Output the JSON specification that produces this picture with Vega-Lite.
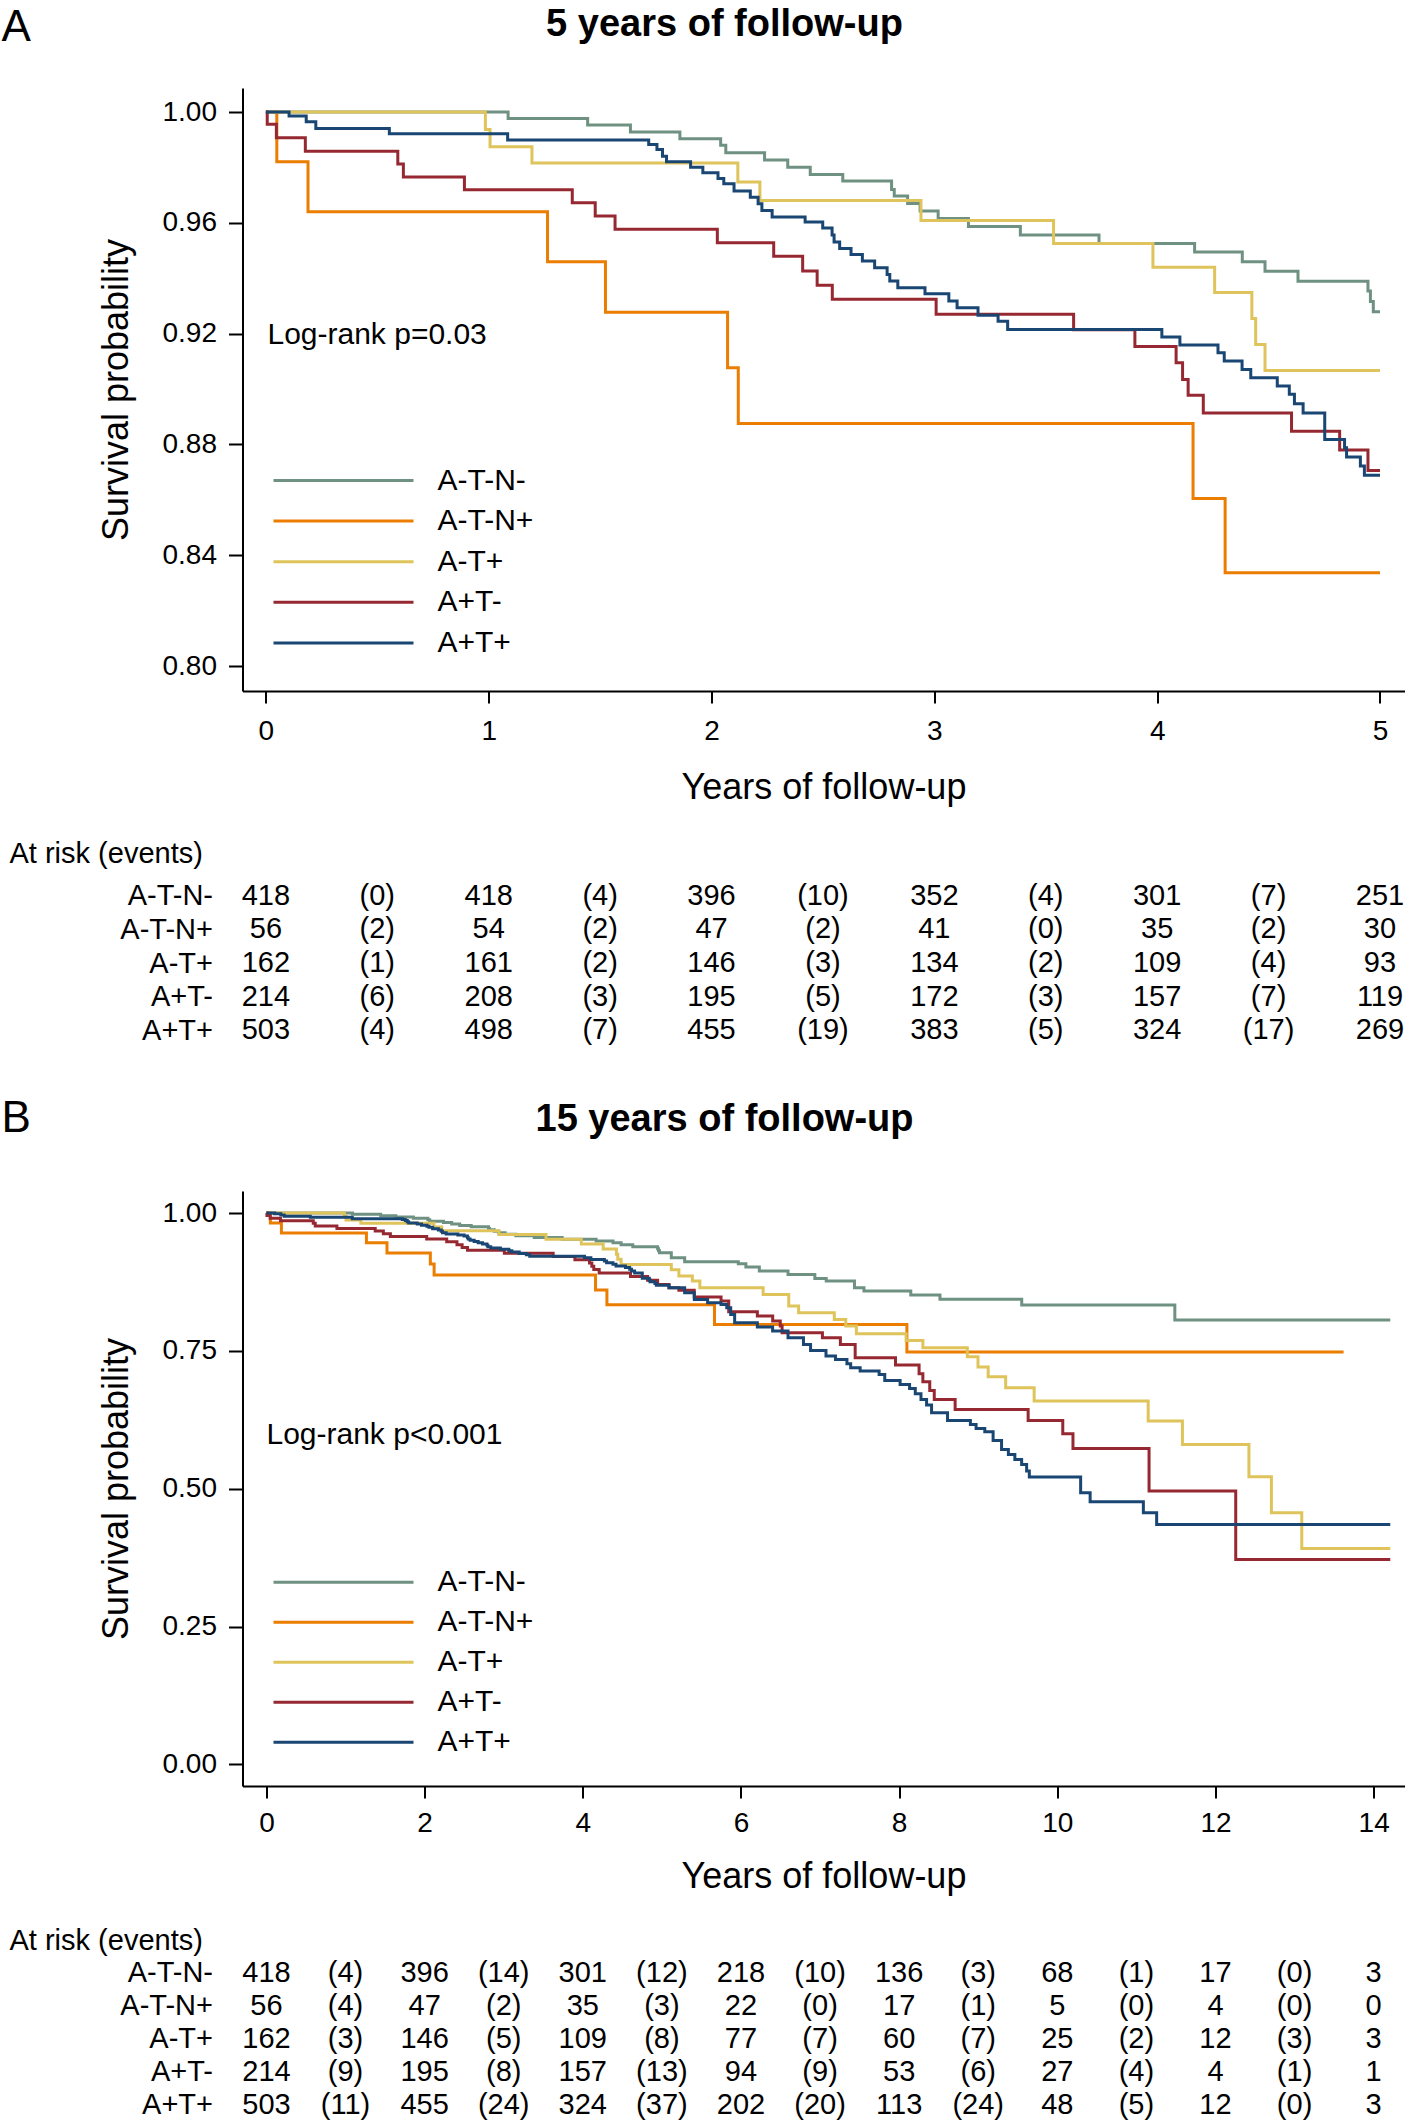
{
"$schema": "https://vega.github.io/schema/vega-lite/v6.json",
"background": "white",
"padding": {"left": 1.5, "top": 6, "right": 0, "bottom": 0},
"config": {
  "view": {"stroke": null},
  "axis": {"domainColor": "black", "domainWidth": 2, "tickColor": "black", "tickWidth": 2, "labelColor": "black", "titleColor": "black", "labelFont": "Liberation Sans", "titleFont": "Liberation Sans", "titleFontWeight": "normal", "grid": false, "labelFontSize": 28, "titleFontSize": 36},
  "title": {"color": "black"}
},
"datasets": {
  "km": [
    {"g":"A-T-N-","t":0,"s":1},{"g":"A-T-N-","t":1.087,"s":0.9977},{"g":"A-T-N-","t":1.444,"s":0.9953},{"g":"A-T-N-","t":1.636,"s":0.9928},{"g":"A-T-N-","t":1.858,"s":0.9904},{"g":"A-T-N-","t":2.041,"s":0.988},{"g":"A-T-N-","t":2.064,"s":0.9853},{"g":"A-T-N-","t":2.238,"s":0.9827},{"g":"A-T-N-","t":2.342,"s":0.9801},{"g":"A-T-N-","t":2.443,"s":0.9775},{"g":"A-T-N-","t":2.589,"s":0.9751},{"g":"A-T-N-","t":2.808,"s":0.9721},{"g":"A-T-N-","t":2.82,"s":0.9697},{"g":"A-T-N-","t":2.88,"s":0.967},{"g":"A-T-N-","t":2.936,"s":0.9643},{"g":"A-T-N-","t":3.017,"s":0.9616},{"g":"A-T-N-","t":3.153,"s":0.9587},{"g":"A-T-N-","t":3.386,"s":0.9556},{"g":"A-T-N-","t":3.739,"s":0.9526},{"g":"A-T-N-","t":4.168,"s":0.9495},{"g":"A-T-N-","t":4.382,"s":0.946},{"g":"A-T-N-","t":4.484,"s":0.9425},{"g":"A-T-N-","t":4.632,"s":0.9389},{"g":"A-T-N-","t":4.946,"s":0.9354},{"g":"A-T-N-","t":4.957,"s":0.9316},{"g":"A-T-N-","t":4.97,"s":0.9279},{"g":"A-T-N-","t":5.0,"s":0.9279},{"g":"A-T-N-","t":5.119,"s":0.919},{"g":"A-T-N-","t":5.288,"s":0.9118},{"g":"A-T-N-","t":5.966,"s":0.9081},{"g":"A-T-N-","t":6.062,"s":0.9021},{"g":"A-T-N-","t":6.232,"s":0.8948},{"g":"A-T-N-","t":6.595,"s":0.8888},{"g":"A-T-N-","t":6.934,"s":0.8815},{"g":"A-T-N-","t":7.078,"s":0.8767},{"g":"A-T-N-","t":7.435,"s":0.8646},{"g":"A-T-N-","t":7.555,"s":0.8586},{"g":"A-T-N-","t":8.147,"s":0.8513},{"g":"A-T-N-","t":8.516,"s":0.8435},{"g":"A-T-N-","t":9.55,"s":0.8332},{"g":"A-T-N-","t":11.486,"s":0.806},{"g":"A-T-N-","t":14.21,"s":0.806},
    {"g":"A-T-N+","t":0,"s":1},{"g":"A-T-N+","t":0.049,"s":0.9821},{"g":"A-T-N+","t":0.189,"s":0.964},{"g":"A-T-N+","t":1.264,"s":0.946},{"g":"A-T-N+","t":1.524,"s":0.9277},{"g":"A-T-N+","t":2.072,"s":0.9077},{"g":"A-T-N+","t":2.12,"s":0.8876},{"g":"A-T-N+","t":4.161,"s":0.8605},{"g":"A-T-N+","t":4.305,"s":0.8337},{"g":"A-T-N+","t":5.0,"s":0.8337},{"g":"A-T-N+","t":5.665,"s":0.7981},{"g":"A-T-N+","t":8.098,"s":0.7479},{"g":"A-T-N+","t":13.62,"s":0.7479},
    {"g":"A-T+","t":0,"s":1},{"g":"A-T+","t":0.985,"s":0.9937},{"g":"A-T+","t":1.006,"s":0.9875},{"g":"A-T+","t":1.194,"s":0.9816},{"g":"A-T+","t":2.118,"s":0.9748},{"g":"A-T+","t":2.217,"s":0.9681},{"g":"A-T+","t":2.94,"s":0.9609},{"g":"A-T+","t":3.535,"s":0.9526},{"g":"A-T+","t":3.981,"s":0.944},{"g":"A-T+","t":4.258,"s":0.9349},{"g":"A-T+","t":4.425,"s":0.9255},{"g":"A-T+","t":4.442,"s":0.9161},{"g":"A-T+","t":4.484,"s":0.9067},{"g":"A-T+","t":5.0,"s":0.9067},{"g":"A-T+","t":5.119,"s":0.897},{"g":"A-T+","t":5.215,"s":0.8858},{"g":"A-T+","t":5.385,"s":0.8767},{"g":"A-T+","t":5.48,"s":0.8646},{"g":"A-T+","t":6.28,"s":0.8525},{"g":"A-T+","t":6.604,"s":0.8313},{"g":"A-T+","t":6.729,"s":0.8192},{"g":"A-T+","t":7.18,"s":0.8071},{"g":"A-T+","t":7.325,"s":0.795},{"g":"A-T+","t":7.459,"s":0.7811},{"g":"A-T+","t":8.088,"s":0.769},{"g":"A-T+","t":8.3,"s":0.7558},{"g":"A-T+","t":8.862,"s":0.7395},{"g":"A-T+","t":8.997,"s":0.7207},{"g":"A-T+","t":9.126,"s":0.7032},{"g":"A-T+","t":9.347,"s":0.6832},{"g":"A-T+","t":9.707,"s":0.659},{"g":"A-T+","t":11.149,"s":0.6228},{"g":"A-T+","t":11.582,"s":0.5805},{"g":"A-T+","t":12.423,"s":0.5219},{"g":"A-T+","t":12.707,"s":0.4566},{"g":"A-T+","t":13.091,"s":0.3919},{"g":"A-T+","t":14.21,"s":0.3919},
    {"g":"A+T-","t":0,"s":1},{"g":"A+T-","t":0.006,"s":0.9956},{"g":"A+T-","t":0.047,"s":0.9907},{"g":"A+T-","t":0.177,"s":0.9859},{"g":"A+T-","t":0.592,"s":0.9813},{"g":"A+T-","t":0.617,"s":0.9766},{"g":"A+T-","t":0.891,"s":0.972},{"g":"A+T-","t":1.375,"s":0.9673},{"g":"A+T-","t":1.478,"s":0.9625},{"g":"A+T-","t":1.567,"s":0.9577},{"g":"A+T-","t":2.026,"s":0.9528},{"g":"A+T-","t":2.279,"s":0.948},{"g":"A+T-","t":2.409,"s":0.9426},{"g":"A+T-","t":2.474,"s":0.9375},{"g":"A+T-","t":2.542,"s":0.9324},{"g":"A+T-","t":3.008,"s":0.927},{"g":"A+T-","t":3.625,"s":0.9214},{"g":"A+T-","t":3.9,"s":0.9154},{"g":"A+T-","t":4.085,"s":0.9095},{"g":"A+T-","t":4.114,"s":0.9035},{"g":"A+T-","t":4.139,"s":0.8978},{"g":"A+T-","t":4.207,"s":0.8914},{"g":"A+T-","t":4.603,"s":0.8848},{"g":"A+T-","t":4.819,"s":0.878},{"g":"A+T-","t":4.946,"s":0.8706},{"g":"A+T-","t":5.0,"s":0.8706},{"g":"A+T-","t":5.09,"s":0.8646},{"g":"A+T-","t":5.215,"s":0.8598},{"g":"A+T-","t":5.409,"s":0.8477},{"g":"A+T-","t":5.748,"s":0.8405},{"g":"A+T-","t":5.845,"s":0.8211},{"g":"A+T-","t":6.207,"s":0.8132},{"g":"A+T-","t":6.401,"s":0.8041},{"g":"A+T-","t":6.497,"s":0.795},{"g":"A+T-","t":6.52,"s":0.783},{"g":"A+T-","t":7.03,"s":0.7739},{"g":"A+T-","t":7.257,"s":0.7618},{"g":"A+T-","t":7.444,"s":0.7376},{"g":"A+T-","t":7.954,"s":0.7243},{"g":"A+T-","t":8.252,"s":0.7086},{"g":"A+T-","t":8.3,"s":0.6941},{"g":"A+T-","t":8.387,"s":0.6784},{"g":"A+T-","t":8.444,"s":0.662},{"g":"A+T-","t":8.708,"s":0.6439},{"g":"A+T-","t":9.631,"s":0.6239},{"g":"A+T-","t":10.069,"s":0.5998},{"g":"A+T-","t":10.198,"s":0.5732},{"g":"A+T-","t":11.16,"s":0.4958},{"g":"A+T-","t":12.256,"s":0.3718},{"g":"A+T-","t":14.21,"s":0.3718},
    {"g":"A+T+","t":0,"s":1},{"g":"A+T+","t":0.104,"s":0.9986},{"g":"A+T+","t":0.181,"s":0.9965},{"g":"A+T+","t":0.224,"s":0.9941},{"g":"A+T+","t":0.554,"s":0.9922},{"g":"A+T+","t":1.085,"s":0.9899},{"g":"A+T+","t":1.718,"s":0.9883},{"g":"A+T+","t":1.755,"s":0.9865},{"g":"A+T+","t":1.78,"s":0.9841},{"g":"A+T+","t":1.798,"s":0.9821},{"g":"A+T+","t":1.906,"s":0.9801},{"g":"A+T+","t":1.961,"s":0.9781},{"g":"A+T+","t":2.029,"s":0.976},{"g":"A+T+","t":2.055,"s":0.9741},{"g":"A+T+","t":2.101,"s":0.9715},{"g":"A+T+","t":2.174,"s":0.9693},{"g":"A+T+","t":2.209,"s":0.9669},{"g":"A+T+","t":2.226,"s":0.9645},{"g":"A+T+","t":2.272,"s":0.9621},{"g":"A+T+","t":2.42,"s":0.9603},{"g":"A+T+","t":2.499,"s":0.9582},{"g":"A+T+","t":2.541,"s":0.9556},{"g":"A+T+","t":2.55,"s":0.9531},{"g":"A+T+","t":2.575,"s":0.9508},{"g":"A+T+","t":2.626,"s":0.9486},{"g":"A+T+","t":2.677,"s":0.9462},{"g":"A+T+","t":2.732,"s":0.9438},{"g":"A+T+","t":2.788,"s":0.9414},{"g":"A+T+","t":2.8,"s":0.939},{"g":"A+T+","t":2.836,"s":0.9366},{"g":"A+T+","t":2.958,"s":0.9344},{"g":"A+T+","t":3.065,"s":0.9318},{"g":"A+T+","t":3.102,"s":0.9294},{"g":"A+T+","t":3.196,"s":0.9267},{"g":"A+T+","t":3.286,"s":0.9245},{"g":"A+T+","t":3.329,"s":0.9215},{"g":"A+T+","t":4.021,"s":0.9188},{"g":"A+T+","t":4.102,"s":0.9159},{"g":"A+T+","t":4.273,"s":0.9131},{"g":"A+T+","t":4.301,"s":0.9101},{"g":"A+T+","t":4.381,"s":0.9071},{"g":"A+T+","t":4.42,"s":0.9041},{"g":"A+T+","t":4.539,"s":0.9011},{"g":"A+T+","t":4.593,"s":0.8981},{"g":"A+T+","t":4.616,"s":0.8947},{"g":"A+T+","t":4.655,"s":0.8914},{"g":"A+T+","t":4.752,"s":0.8818},{"g":"A+T+","t":4.841,"s":0.8788},{"g":"A+T+","t":4.85,"s":0.8755},{"g":"A+T+","t":4.912,"s":0.8722},{"g":"A+T+","t":4.93,"s":0.8689},{"g":"A+T+","t":5.0,"s":0.8689},{"g":"A+T+","t":5.09,"s":0.8646},{"g":"A+T+","t":5.288,"s":0.8555},{"g":"A+T+","t":5.41,"s":0.8434},{"g":"A+T+","t":5.578,"s":0.8374},{"g":"A+T+","t":5.748,"s":0.8344},{"g":"A+T+","t":5.82,"s":0.8283},{"g":"A+T+","t":5.87,"s":0.8162},{"g":"A+T+","t":5.92,"s":0.8011},{"g":"A+T+","t":6.207,"s":0.7932},{"g":"A+T+","t":6.4,"s":0.786},{"g":"A+T+","t":6.595,"s":0.7739},{"g":"A+T+","t":6.79,"s":0.7618},{"g":"A+T+","t":6.88,"s":0.7509},{"g":"A+T+","t":7.075,"s":0.7407},{"g":"A+T+","t":7.195,"s":0.7346},{"g":"A+T+","t":7.34,"s":0.7267},{"g":"A+T+","t":7.387,"s":0.7195},{"g":"A+T+","t":7.507,"s":0.7134},{"g":"A+T+","t":7.747,"s":0.7074},{"g":"A+T+","t":7.818,"s":0.6965},{"g":"A+T+","t":8.012,"s":0.6893},{"g":"A+T+","t":8.132,"s":0.682},{"g":"A+T+","t":8.204,"s":0.6723},{"g":"A+T+","t":8.276,"s":0.662},{"g":"A+T+","t":8.347,"s":0.6518},{"g":"A+T+","t":8.41,"s":0.6378},{"g":"A+T+","t":8.612,"s":0.6239},{"g":"A+T+","t":8.901,"s":0.6167},{"g":"A+T+","t":8.973,"s":0.6095},{"g":"A+T+","t":9.083,"s":0.6034},{"g":"A+T+","t":9.188,"s":0.5877},{"g":"A+T+","t":9.295,"s":0.5714},{"g":"A+T+","t":9.381,"s":0.5623},{"g":"A+T+","t":9.463,"s":0.5532},{"g":"A+T+","t":9.549,"s":0.5442},{"g":"A+T+","t":9.612,"s":0.5321},{"g":"A+T+","t":9.646,"s":0.5212},{"g":"A+T+","t":10.295,"s":0.4928},{"g":"A+T+","t":10.415,"s":0.4765},{"g":"A+T+","t":11.088,"s":0.4565},{"g":"A+T+","t":11.256,"s":0.4354},{"g":"A+T+","t":14.21,"s":0.4354}
  ],
  "risk": [
    {"p":"A","g":"A-T-N-","t":0,"v":"418"},{"p":"A","g":"A-T-N-","t":0.5,"v":"(0)"},{"p":"A","g":"A-T-N-","t":1,"v":"418"},{"p":"A","g":"A-T-N-","t":1.5,"v":"(4)"},{"p":"A","g":"A-T-N-","t":2,"v":"396"},{"p":"A","g":"A-T-N-","t":2.5,"v":"(10)"},{"p":"A","g":"A-T-N-","t":3,"v":"352"},{"p":"A","g":"A-T-N-","t":3.5,"v":"(4)"},{"p":"A","g":"A-T-N-","t":4,"v":"301"},{"p":"A","g":"A-T-N-","t":4.5,"v":"(7)"},{"p":"A","g":"A-T-N-","t":5,"v":"251"},
    {"p":"A","g":"A-T-N+","t":0,"v":"56"},{"p":"A","g":"A-T-N+","t":0.5,"v":"(2)"},{"p":"A","g":"A-T-N+","t":1,"v":"54"},{"p":"A","g":"A-T-N+","t":1.5,"v":"(2)"},{"p":"A","g":"A-T-N+","t":2,"v":"47"},{"p":"A","g":"A-T-N+","t":2.5,"v":"(2)"},{"p":"A","g":"A-T-N+","t":3,"v":"41"},{"p":"A","g":"A-T-N+","t":3.5,"v":"(0)"},{"p":"A","g":"A-T-N+","t":4,"v":"35"},{"p":"A","g":"A-T-N+","t":4.5,"v":"(2)"},{"p":"A","g":"A-T-N+","t":5,"v":"30"},
    {"p":"A","g":"A-T+","t":0,"v":"162"},{"p":"A","g":"A-T+","t":0.5,"v":"(1)"},{"p":"A","g":"A-T+","t":1,"v":"161"},{"p":"A","g":"A-T+","t":1.5,"v":"(2)"},{"p":"A","g":"A-T+","t":2,"v":"146"},{"p":"A","g":"A-T+","t":2.5,"v":"(3)"},{"p":"A","g":"A-T+","t":3,"v":"134"},{"p":"A","g":"A-T+","t":3.5,"v":"(2)"},{"p":"A","g":"A-T+","t":4,"v":"109"},{"p":"A","g":"A-T+","t":4.5,"v":"(4)"},{"p":"A","g":"A-T+","t":5,"v":"93"},
    {"p":"A","g":"A+T-","t":0,"v":"214"},{"p":"A","g":"A+T-","t":0.5,"v":"(6)"},{"p":"A","g":"A+T-","t":1,"v":"208"},{"p":"A","g":"A+T-","t":1.5,"v":"(3)"},{"p":"A","g":"A+T-","t":2,"v":"195"},{"p":"A","g":"A+T-","t":2.5,"v":"(5)"},{"p":"A","g":"A+T-","t":3,"v":"172"},{"p":"A","g":"A+T-","t":3.5,"v":"(3)"},{"p":"A","g":"A+T-","t":4,"v":"157"},{"p":"A","g":"A+T-","t":4.5,"v":"(7)"},{"p":"A","g":"A+T-","t":5,"v":"119"},
    {"p":"A","g":"A+T+","t":0,"v":"503"},{"p":"A","g":"A+T+","t":0.5,"v":"(4)"},{"p":"A","g":"A+T+","t":1,"v":"498"},{"p":"A","g":"A+T+","t":1.5,"v":"(7)"},{"p":"A","g":"A+T+","t":2,"v":"455"},{"p":"A","g":"A+T+","t":2.5,"v":"(19)"},{"p":"A","g":"A+T+","t":3,"v":"383"},{"p":"A","g":"A+T+","t":3.5,"v":"(5)"},{"p":"A","g":"A+T+","t":4,"v":"324"},{"p":"A","g":"A+T+","t":4.5,"v":"(17)"},{"p":"A","g":"A+T+","t":5,"v":"269"},
    {"p":"B","g":"A-T-N-","t":0,"v":"418"},{"p":"B","g":"A-T-N-","t":1,"v":"(4)"},{"p":"B","g":"A-T-N-","t":2,"v":"396"},{"p":"B","g":"A-T-N-","t":3,"v":"(14)"},{"p":"B","g":"A-T-N-","t":4,"v":"301"},{"p":"B","g":"A-T-N-","t":5,"v":"(12)"},{"p":"B","g":"A-T-N-","t":6,"v":"218"},{"p":"B","g":"A-T-N-","t":7,"v":"(10)"},{"p":"B","g":"A-T-N-","t":8,"v":"136"},{"p":"B","g":"A-T-N-","t":9,"v":"(3)"},{"p":"B","g":"A-T-N-","t":10,"v":"68"},{"p":"B","g":"A-T-N-","t":11,"v":"(1)"},{"p":"B","g":"A-T-N-","t":12,"v":"17"},{"p":"B","g":"A-T-N-","t":13,"v":"(0)"},{"p":"B","g":"A-T-N-","t":14,"v":"3"},
    {"p":"B","g":"A-T-N+","t":0,"v":"56"},{"p":"B","g":"A-T-N+","t":1,"v":"(4)"},{"p":"B","g":"A-T-N+","t":2,"v":"47"},{"p":"B","g":"A-T-N+","t":3,"v":"(2)"},{"p":"B","g":"A-T-N+","t":4,"v":"35"},{"p":"B","g":"A-T-N+","t":5,"v":"(3)"},{"p":"B","g":"A-T-N+","t":6,"v":"22"},{"p":"B","g":"A-T-N+","t":7,"v":"(0)"},{"p":"B","g":"A-T-N+","t":8,"v":"17"},{"p":"B","g":"A-T-N+","t":9,"v":"(1)"},{"p":"B","g":"A-T-N+","t":10,"v":"5"},{"p":"B","g":"A-T-N+","t":11,"v":"(0)"},{"p":"B","g":"A-T-N+","t":12,"v":"4"},{"p":"B","g":"A-T-N+","t":13,"v":"(0)"},{"p":"B","g":"A-T-N+","t":14,"v":"0"},
    {"p":"B","g":"A-T+","t":0,"v":"162"},{"p":"B","g":"A-T+","t":1,"v":"(3)"},{"p":"B","g":"A-T+","t":2,"v":"146"},{"p":"B","g":"A-T+","t":3,"v":"(5)"},{"p":"B","g":"A-T+","t":4,"v":"109"},{"p":"B","g":"A-T+","t":5,"v":"(8)"},{"p":"B","g":"A-T+","t":6,"v":"77"},{"p":"B","g":"A-T+","t":7,"v":"(7)"},{"p":"B","g":"A-T+","t":8,"v":"60"},{"p":"B","g":"A-T+","t":9,"v":"(7)"},{"p":"B","g":"A-T+","t":10,"v":"25"},{"p":"B","g":"A-T+","t":11,"v":"(2)"},{"p":"B","g":"A-T+","t":12,"v":"12"},{"p":"B","g":"A-T+","t":13,"v":"(3)"},{"p":"B","g":"A-T+","t":14,"v":"3"},
    {"p":"B","g":"A+T-","t":0,"v":"214"},{"p":"B","g":"A+T-","t":1,"v":"(9)"},{"p":"B","g":"A+T-","t":2,"v":"195"},{"p":"B","g":"A+T-","t":3,"v":"(8)"},{"p":"B","g":"A+T-","t":4,"v":"157"},{"p":"B","g":"A+T-","t":5,"v":"(13)"},{"p":"B","g":"A+T-","t":6,"v":"94"},{"p":"B","g":"A+T-","t":7,"v":"(9)"},{"p":"B","g":"A+T-","t":8,"v":"53"},{"p":"B","g":"A+T-","t":9,"v":"(6)"},{"p":"B","g":"A+T-","t":10,"v":"27"},{"p":"B","g":"A+T-","t":11,"v":"(4)"},{"p":"B","g":"A+T-","t":12,"v":"4"},{"p":"B","g":"A+T-","t":13,"v":"(1)"},{"p":"B","g":"A+T-","t":14,"v":"1"},
    {"p":"B","g":"A+T+","t":0,"v":"503"},{"p":"B","g":"A+T+","t":1,"v":"(11)"},{"p":"B","g":"A+T+","t":2,"v":"455"},{"p":"B","g":"A+T+","t":3,"v":"(24)"},{"p":"B","g":"A+T+","t":4,"v":"324"},{"p":"B","g":"A+T+","t":5,"v":"(37)"},{"p":"B","g":"A+T+","t":6,"v":"202"},{"p":"B","g":"A+T+","t":7,"v":"(20)"},{"p":"B","g":"A+T+","t":8,"v":"113"},{"p":"B","g":"A+T+","t":9,"v":"(24)"},{"p":"B","g":"A+T+","t":10,"v":"48"},{"p":"B","g":"A+T+","t":11,"v":"(5)"},{"p":"B","g":"A+T+","t":12,"v":"12"},{"p":"B","g":"A+T+","t":13,"v":"(0)"},{"p":"B","g":"A+T+","t":14,"v":"3"}
  ]
},
"spacing": 50,
"vconcat": [
  {
    "title": {"text": "A", "anchor": "start", "frame": "bounds", "offset": -44, "fontSize": 44, "font": "Liberation Sans", "fontWeight": "normal", "dx": -8},
    "spacing": 35,
    "resolve": {"scale": {"color": "independent", "x": "independent", "y": "independent"}, "legend": {"color": "independent"}},
    "vconcat": [
      {
        "title": {"text": "5 years of follow-up", "anchor": "middle", "frame": "group", "dx": -99, "offset": 44, "fontSize": 38, "font": "Liberation Sans", "fontWeight": "bold"},
        "width": 1162, "height": 603,
        "layer": [
          {
            "data": {"name": "km"},
            "transform": [{"filter": "datum.t <= 5"}],
            "mark": {"type": "line", "interpolate": "step-after", "strokeWidth": 3},
            "encoding": {
              "x": {"field": "t", "type": "quantitative", "scale": {"domain": [-0.105, 5.11], "nice": false, "zero": false}, "axis": {"values": [0,1,2,3,4,5], "format": "d", "title": "Years of follow-up", "tickSize": 12, "labelPadding": 14, "titlePadding": 25}},
              "y": {"field": "s", "type": "quantitative", "scale": {"domain": [0.791, 1.0087], "nice": false, "zero": false}, "axis": {"values": [0.8,0.84,0.88,0.92,0.96,1.0], "format": ".2f", "title": "Survival probability", "tickSize": 14, "labelPadding": 12, "titlePadding": 27}},
              "color": {"field": "g", "type": "nominal", "scale": {"domain": ["A-T-N-","A-T-N+","A-T+","A+T-","A+T+"], "range": ["#6E9182","#EB7D00","#DEC45A","#962832","#194673"]},
                "legend": {"orient": "none", "legendX": 86, "legendY": 377.5, "title": null, "symbolType": "M-7,0H7", "symbolSize": 400, "symbolStrokeWidth": 3, "labelFontSize": 30, "labelFont": "Liberation Sans", "labelColor": "black", "labelOffset": 79, "rowPadding": 10.6, "padding": 0, "labelLimit": 300}}
            }
          },
          {
            "data": {"values": [{}]},
            "mark": {"type": "text", "align": "left", "baseline": "alphabetic", "fontSize": 30, "font": "Liberation Sans", "color": "black"},
            "encoding": {"x": {"datum": 0.007}, "y": {"datum": 0.9162}, "text": {"value": "Log-rank p=0.03"}}
          }
        ]
      },
      {
        "title": {"text": "At risk (events)", "anchor": "start", "frame": "group", "dx": -233, "offset": 10, "fontSize": 29, "fontWeight": "normal", "font": "Liberation Sans"},
        "width": 1162, "height": 168,
        "data": {"name": "risk"},
        "transform": [{"filter": "datum.p == 'A'"}],
        "mark": {"type": "text", "fontSize": 29, "font": "Liberation Sans", "baseline": "middle", "align": "center", "color": "black"},
        "encoding": {
          "x": {"field": "t", "type": "quantitative", "scale": {"domain": [-0.105, 5.11], "nice": false, "zero": false}, "axis": null},
          "y": {"field": "g", "type": "nominal", "sort": ["A-T-N-","A-T-N+","A-T+","A+T-","A+T+"], "scale": {"type": "point", "padding": 0.5}, "axis": {"title": null, "domain": false, "ticks": false, "labelPadding": 30, "labelFontSize": 29}},
          "text": {"field": "v"}
        }
      }
    ]
  },
  {
    "title": {"text": "B", "anchor": "start", "frame": "bounds", "offset": -40, "fontSize": 44, "font": "Liberation Sans", "fontWeight": "normal", "dx": -8},
    "spacing": 31.5,
    "resolve": {"scale": {"color": "independent", "x": "independent", "y": "independent"}, "legend": {"color": "independent"}},
    "vconcat": [
      {
        "title": {"text": "15 years of follow-up", "anchor": "middle", "frame": "group", "dx": -99, "offset": 52, "fontSize": 38, "font": "Liberation Sans", "fontWeight": "bold"},
        "width": 1162, "height": 595,
        "layer": [
          {
            "data": {"name": "km"},
            "mark": {"type": "line", "interpolate": "step-after", "strokeWidth": 3},
            "encoding": {
              "x": {"field": "t", "type": "quantitative", "scale": {"domain": [-0.303, 14.39], "nice": false, "zero": false}, "axis": {"values": [0,2,4,6,8,10,12,14], "format": "d", "title": "Years of follow-up", "tickSize": 12, "labelPadding": 11.5, "titlePadding": 22}},
              "y": {"field": "s", "type": "quantitative", "scale": {"domain": [-0.039, 1.04], "nice": false, "zero": false}, "axis": {"values": [0,0.25,0.5,0.75,1.0], "format": ".2f", "title": "Survival probability", "tickSize": 14, "labelPadding": 12, "titlePadding": 27}},
              "color": {"field": "g", "type": "nominal", "scale": {"domain": ["A-T-N-","A-T-N+","A-T+","A+T-","A+T+"], "range": ["#6E9182","#EB7D00","#DEC45A","#962832","#194673"]},
                "legend": {"orient": "none", "legendX": 86, "legendY": 376.3, "title": null, "symbolType": "M-7,0H7", "symbolSize": 400, "symbolStrokeWidth": 3, "labelFontSize": 30, "labelFont": "Liberation Sans", "labelColor": "black", "labelOffset": 79, "rowPadding": 10, "padding": 0, "labelLimit": 300}}
            }
          },
          {
            "data": {"values": [{}]},
            "mark": {"type": "text", "align": "left", "baseline": "alphabetic", "fontSize": 30, "font": "Liberation Sans", "color": "black"},
            "encoding": {"x": {"datum": 0.0}, "y": {"datum": 0.581}, "text": {"value": "Log-rank p<0.001"}}
          }
        ]
      },
      {
        "title": {"text": "At risk (events)", "anchor": "start", "frame": "group", "dx": -233, "offset": 1, "fontSize": 29, "fontWeight": "normal", "font": "Liberation Sans"},
        "width": 1162, "height": 164.5,
        "data": {"name": "risk"},
        "transform": [{"filter": "datum.p == 'B'"}],
        "mark": {"type": "text", "fontSize": 29, "font": "Liberation Sans", "baseline": "middle", "align": "center", "color": "black"},
        "encoding": {
          "x": {"field": "t", "type": "quantitative", "scale": {"domain": [-0.303, 14.39], "nice": false, "zero": false}, "axis": null},
          "y": {"field": "g", "type": "nominal", "sort": ["A-T-N-","A-T-N+","A-T+","A+T-","A+T+"], "scale": {"type": "point", "padding": 0.5}, "axis": {"title": null, "domain": false, "ticks": false, "labelPadding": 30, "labelFontSize": 29}},
          "text": {"field": "v"}
        }
      }
    ]
  }
]
}
